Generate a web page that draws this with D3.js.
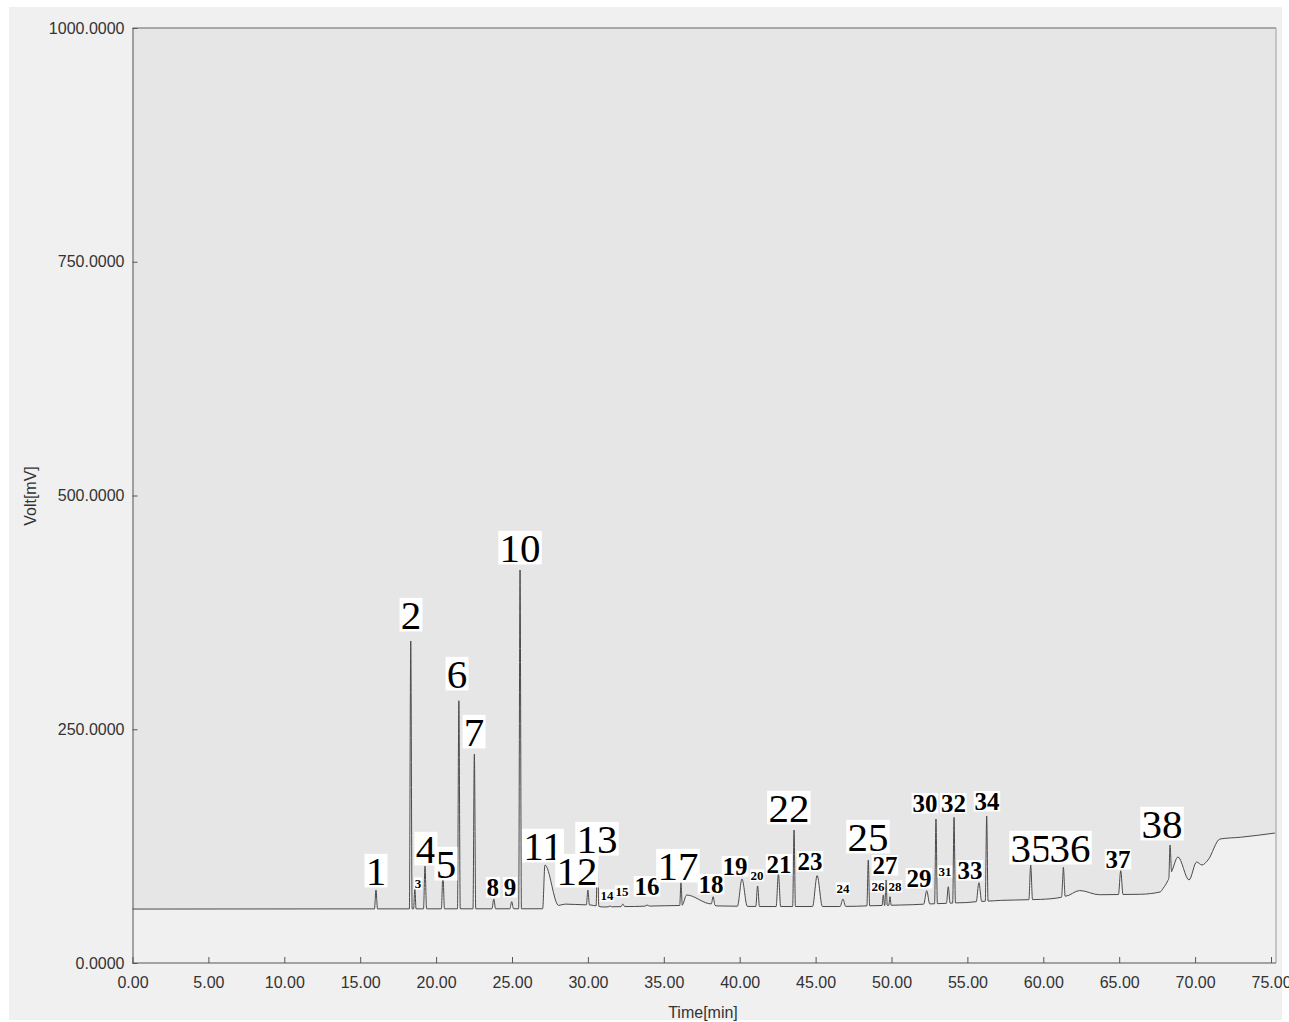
<!DOCTYPE html>
<html>
<head>
<meta charset="utf-8">
<script src="https://cdn.jsdelivr.net/npm/d3@7"></script>
<style>
  body { margin: 0; background: #fff; }
  svg { display: block; }
</style>
</head>
<body>
<div id="chart"></div>
<script>
// baseline of the detector signal (time min, mV)
const baseTime = [0, 27, 28.5, 30.2, 31, 36, 38.7, 41.3, 46.6, 50.6, 53.9, 57.2, 59.8, 61.3, 62.4, 63.7, 66.4, 67.7, 67.9, 68.2, 68.5, 68.87, 69.6, 70.1, 70.45, 70.85, 71.64, 73, 75.26];
const baseVolt = [57.7, 58, 63, 62, 59.9, 61.5, 61, 60.4, 60.4, 62, 64, 67, 68, 70.5, 77.5, 73, 73.5, 76, 80, 88, 99.5, 113.4, 88.8, 108, 104.8, 110.2, 132.6, 134.5, 139];

// peaks: retention time, apex height (mV), left/right half widths (min)
const peakTime   = [16.04, 18.33, 18.6, 19.27, 20.45, 21.5, 22.52, 23.8, 24.98, 25.53, 27.17, 30.0, 30.63, 31.45, 32.3, 33.9, 36.13, 36.5, 38.25, 40.15, 41.18, 42.55, 43.58, 45.1, 46.8, 48.47, 49.46, 49.64, 49.9, 52.32, 52.93, 53.74, 54.12, 55.76, 56.27, 59.17, 61.32, 65.1, 68.35];
const peakHeight = [78.1, 344.4, 80.2, 103.7, 96.3, 280.5, 223.5, 68.4, 65.6, 420.3, 104.8, 78, 112.3, 61, 63.1, 62, 85.9, 72.7, 69.5, 89.8, 82.4, 95.2, 142.2, 93.4, 68.4, 110.2, 72.7, 88.8, 70.9, 77.3, 154, 81.6, 155.8, 85.9, 157.2, 104.8, 102.4, 98.7, 126.2];
const peakLeftW  = [0.1, 0.09, 0.08, 0.1, 0.1, 0.09, 0.09, 0.12, 0.12, 0.09, 0.15, 0.1, 0.09, 0.12, 0.12, 0.15, 0.08, 0.3, 0.12, 0.3, 0.12, 0.15, 0.09, 0.3, 0.18, 0.09, 0.08, 0.08, 0.08, 0.2, 0.09, 0.12, 0.09, 0.18, 0.09, 0.12, 0.12, 0.15, 0.08];
const peakRightW = [0.1, 0.09, 0.08, 0.1, 0.1, 0.09, 0.09, 0.12, 0.12, 0.09, 0.9, 0.1, 0.09, 0.12, 0.12, 0.15, 0.08, 2.0, 0.12, 0.35, 0.12, 0.15, 0.09, 0.35, 0.18, 0.09, 0.08, 0.08, 0.08, 0.2, 0.09, 0.12, 0.09, 0.18, 0.09, 0.12, 0.12, 0.15, 0.1];

// peak number labels: text, position (min, mV) of baseline centre, size class
const labelText = ['1','2','3','4','5','6','7','8','9','10','11','12','13','14','15','16','17','18','19','20','21','22','23','24','25','26','27','28','29','30','31','32','33','34','35','36','37','38'];
const labelTime = [16.04, 18.35, 18.81, 19.33, 20.65, 21.38, 22.5, 23.74, 24.87, 25.53, 27.04, 29.28, 30.6, 31.26, 32.25, 33.89, 35.93, 38.11, 39.69, 41.14, 42.59, 43.24, 44.63, 46.8, 48.45, 49.11, 49.57, 50.23, 51.81, 52.2, 53.52, 54.08, 55.17, 56.29, 59.19, 61.76, 64.92, 67.82];
const labelVolt = [83.4, 357.2, 80.2, 107, 90.9, 294.1, 232.1, 71.7, 71.7, 428.9, 110.2, 83.4, 117.6, 67.4, 71.7, 72.7, 88.8, 74.9, 94.1, 88.8, 96.3, 150.8, 99.5, 74.9, 119.8, 77, 95.2, 77, 81.3, 161.5, 93, 161.5, 89.8, 163.6, 108, 108, 101.6, 133.7];
const labelKind = ['L','L','S','L','L','L','L','M','M','L','L','L','L','S','S','M','L','M','M','S','M','L','M','S','L','S','M','S','M','M','S','M','M','M','L','L','M','L'];

const xTicks = [0, 5, 10, 15, 20, 25, 30, 35, 40, 45, 50, 55, 60, 65, 70, 75];
const yTicks = [0, 250, 500, 750, 1000];

const W = 1289, H = 1022;
const svg = d3.select('#chart').append('svg')
  .attr('width', W).attr('height', H)
  .attr('viewBox', [0, 0, W, H]);

// scanned paper
svg.append('rect').attr('width', W).attr('height', H).attr('fill', '#fff');
svg.append('rect').attr('x', 9).attr('y', 7).attr('width', 1273).attr('height', 1013).attr('fill', '#f0f0f0');

const x = d3.scaleLinear().domain([0, 75]).range([132.5, 1271]);
const y = d3.scaleLinear().domain([0, 1000]).range([963, 28]);

// build the trace as the baseline plus peaks
const base = d3.scaleLinear().domain(baseTime).range(baseVolt).clamp(true);
const peaks = peakTime.map((t, i) => ({
  t, h: peakHeight[i] - base(t), wl: peakLeftW[i], wr: peakRightW[i]
}));
let breaks = baseTime.slice();
peaks.forEach(p => breaks.push(p.t - p.wl, p.t, p.t + p.wr));
breaks = Array.from(new Set(breaks.map(v => +v.toFixed(4)))).sort((a, b) => a - b)
  .filter(t => t >= 0 && t <= 75.26);
const trace = breaks.map(t => {
  let v = base(t);
  peaks.forEach(p => {
    const d = t < p.t ? (p.t - t) / p.wl : (t - p.t) / p.wr;
    if (d < 1) v += p.h * (1 - d);
  });
  return [t, v];
});

// grey plot field above the trace
svg.append('path')
  .datum(trace)
  .attr('fill', '#e6e6e6')
  .attr('d', d3.area().curve(d3.curveMonotoneX).x(d => x(d[0])).y0(y(1000)).y1(d => y(d[1])));

// frame
svg.append('line').attr('x1', x(0)).attr('x2', 1276).attr('y1', y(1000)).attr('y2', y(1000))
  .attr('stroke', '#666').attr('stroke-width', 1);
svg.append('line').attr('x1', 1276).attr('x2', 1276).attr('y1', y(1000)).attr('y2', y(0))
  .attr('stroke', '#999').attr('stroke-width', 1);

// axes
const xAxis = svg.append('g')
  .attr('transform', `translate(0,${y(0)})`)
  .call(d3.axisBottom(x).tickValues(xTicks).tickFormat(d3.format('.2f'))
    .tickSizeInner(-6).tickSizeOuter(0).tickPadding(14));
xAxis.select('.domain').attr('d', `M${x(0)},0H1276`);

const yAxis = svg.append('g')
  .attr('transform', `translate(${x(0)},0)`)
  .call(d3.axisLeft(y).tickValues(yTicks).tickFormat(d3.format('.4f'))
    .tickSizeInner(-5).tickSizeOuter(0).tickPadding(8));

svg.selectAll('.tick text')
  .attr('font-family', '"Liberation Sans", Arial, sans-serif')
  .attr('font-size', 16)
  .attr('fill', '#333');
svg.selectAll('.domain, .tick line').attr('stroke', '#555');

// trace
svg.append('path')
  .datum(trace)
  .attr('fill', 'none')
  .attr('stroke', '#4a4a4a')
  .attr('stroke-width', 1)
  .attr('stroke-linejoin', 'round')
  .attr('d', d3.line().curve(d3.curveMonotoneX).x(d => x(d[0])).y(d => y(d[1])));

// axis titles
svg.append('text')
  .attr('x', 703).attr('y', 1018)
  .attr('text-anchor', 'middle')
  .attr('font-family', '"Liberation Sans", Arial, sans-serif')
  .attr('font-size', 16).attr('fill', '#333')
  .text('Time[min]');
svg.append('text')
  .attr('transform', 'translate(36,496) rotate(-90)')
  .attr('text-anchor', 'middle')
  .attr('font-family', '"Liberation Sans", Arial, sans-serif')
  .attr('font-size', 16).attr('fill', '#333')
  .text('Volt[mV]');

// peak labels on white boxes
const kindStyle = {
  L: { size: 41, weight: 'normal' },
  M: { size: 25, weight: 'bold' },
  S: { size: 13, weight: 'bold' }
};
const labelG = svg.append('g');
labelText.forEach((txt, i) => {
  const st = kindStyle[labelKind[i]];
  const cx = x(labelTime[i]), by = y(labelVolt[i]);
  const g = labelG.append('g');
  const rect = g.append('rect').attr('fill', '#fff');
  const t = g.append('text')
    .attr('x', cx).attr('y', by)
    .attr('text-anchor', 'middle')
    .attr('font-family', '"Liberation Serif", "Times New Roman", serif')
    .attr('font-size', st.size)
    .attr('font-weight', st.weight)
    .attr('fill', '#000')
    .text(txt);
  const w = t.node().getComputedTextLength();
  const cap = st.size * 0.7;
  const pad = Math.max(1.5, st.size * 0.06);
  rect.attr('x', cx - w / 2 - pad / 2)
    .attr('y', by - cap - pad)
    .attr('width', w + pad)
    .attr('height', cap + pad * 2);
});
</script>
</body>
</html>
